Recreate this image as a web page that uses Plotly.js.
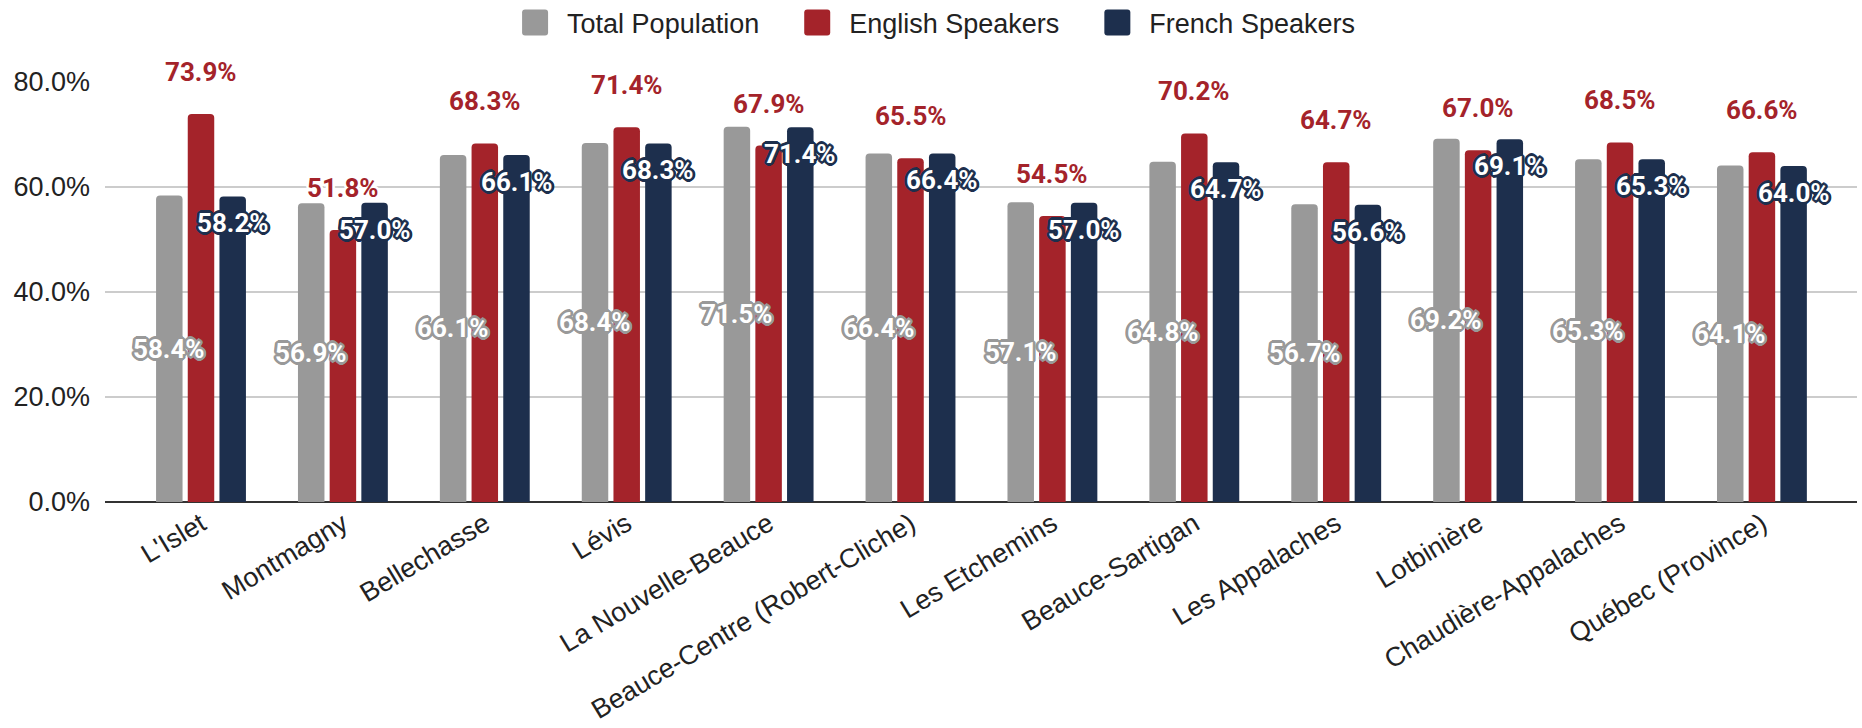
<!DOCTYPE html>
<html><head><meta charset="utf-8">
<script src="https://cdn.plot.ly/plotly-3.0.1.min.js"></script>
<style>html,body{margin:0;padding:0;background:#fff;} #chart{width:1862px;height:728px;}</style>
</head><body><div id="chart"></div>
<script>
const categories = ["L'Islet","Montmagny","Bellechasse","Lévis","La Nouvelle-Beauce","Beauce-Centre (Robert-Cliche)","Les Etchemins","Beauce-Sartigan","Les Appalaches","Lotbinière","Chaudière-Appalaches","Québec (Province)"];
const totalPopulation = [58.4,56.9,66.1,68.4,71.5,66.4,57.1,64.8,56.7,69.2,65.3,64.1];
const englishSpeakers = [73.9,51.8,68.3,71.4,67.9,65.5,54.5,70.2,64.7,67.0,68.5,66.6];
const frenchSpeakers = [58.2,57.0,66.1,68.3,71.4,66.4,57.0,64.7,56.6,69.1,65.3,64.0];
const seriesNames = ["Total Population","English Speakers","French Speakers"];
const yTickValues = [0,20,40,60,80];
const yTickLabels = ["0.0%","20.0%","40.0%","60.0%","80.0%"];

const GREY = '#999999', RED = '#A4232A', NAVY = '#1D2F4D';
const AXIS_FONT = 'Liberation Sans, Arial, sans-serif';
const LABEL_FONT = 'Roboto, sans-serif';

function halo(color, r) {
  const parts = [];
  for (let a = 0; a < 360; a += 30) {
    const rad = a * Math.PI / 180;
    parts.push((r * Math.cos(rad)).toFixed(2) + 'px ' + (r * Math.sin(rad)).toFixed(2) + 'px 0 ' + color);
  }
  return parts.join(', ');
}
const fmt = v => v.toFixed(1) + '%';

const seriesValues = [totalPopulation, englishSpeakers, frenchSpeakers];
const seriesColors = [GREY, RED, NAVY];

const data = seriesValues.map((vals, k) => ({
  type: 'bar',
  name: seriesNames[k],
  x: categories,
  y: vals,
  marker: { color: seriesColors[k], line: { width: 0 } },
  hoverinfo: 'skip'
}));

const PITCH = 31.7;
const annotations = [];
categories.forEach((c, i) => {
  annotations.push({
    x: c, y: totalPopulation[i] / 2, xref: 'x', yref: 'y', xshift: -PITCH,
    text: fmt(totalPopulation[i]), showarrow: false, xanchor: 'center', yanchor: 'middle',
    font: { family: LABEL_FONT, size: 26, weight: 700, color: '#ffffff', shadow: halo(GREY, 2.8) }
  });
  annotations.push({
    x: c, y: englishSpeakers[i], xref: 'x', yref: 'y', xshift: 0, yshift: 42,
    text: fmt(englishSpeakers[i]), showarrow: false, xanchor: 'center', yanchor: 'middle',
    font: { family: LABEL_FONT, size: 26, weight: 700, color: RED, shadow: halo('#ffffff', 2.6) }
  });
  annotations.push({
    x: c, y: frenchSpeakers[i], xref: 'x', yref: 'y', xshift: PITCH, yshift: -27,
    text: fmt(frenchSpeakers[i]), showarrow: false, xanchor: 'center', yanchor: 'middle',
    font: { family: LABEL_FONT, size: 26, weight: 700, color: '#ffffff', shadow: halo(NAVY, 2.8) }
  });
});

const ITEM_WIDTH = 75;
const layout = {
  width: 1862, height: 728, autosize: false,
  paper_bgcolor: '#ffffff', plot_bgcolor: '#ffffff',
  margin: { l: 105, r: 5, t: 82, b: 226, pad: 0, autoexpand: false },
  barmode: 'group', bargap: 0.33, bargroupgap: 0.164, barcornerradius: 4,
  showlegend: true,
  legend: {
    orientation: 'h', xref: 'paper', x: 0.4658, xanchor: 'center',
    yref: 'paper', y: 1.1405, yanchor: 'middle',
    font: { family: AXIS_FONT, size: 27, color: '#222222' },
    itemwidth: ITEM_WIDTH, traceorder: 'normal', bgcolor: 'rgba(0,0,0,0)'
  },
  xaxis: {
    type: 'category', range: [-0.6765, 11.67], tickangle: -31,
    tickfont: { family: AXIS_FONT, size: 27, color: '#222222' },
    showgrid: false, ticks: '', showline: false, zeroline: false, automargin: false, fixedrange: true
  },
  yaxis: {
    range: [0, 80], tickmode: 'array', tickvals: yTickValues, ticktext: yTickLabels,
    tickfont: { family: AXIS_FONT, size: 27, color: '#222222' },
    showgrid: true, gridcolor: '#cccccc', gridwidth: 2,
    zeroline: true, zerolinecolor: '#333333', zerolinewidth: 2,
    ticks: '', ticklabelstandoff: 14, showline: false, automargin: false, fixedrange: true
  },
  annotations: annotations
};

Plotly.newPlot('chart', data, layout, { displayModeBar: false, staticPlot: true }).then(gd => {
  const r = 13, c = 3;
  const d = `M${-r + c},${-r}H${r - c}A${c},${c} 0 0 1 ${r},${-r + c}V${r - c}A${c},${c} 0 0 1 ${r - c},${r}H${-r + c}A${c},${c} 0 0 1 ${-r},${r - c}V${-r + c}A${c},${c} 0 0 1 ${-r + c},${-r}Z`;
  const textGap = ITEM_WIDTH + 10;
  gd.querySelectorAll('.legend .legendpoints path').forEach(p => {
    p.setAttribute('d', d);
    p.setAttribute('transform', 'translate(' + (textGap - 32) + ',0)');
    p.style.strokeWidth = '0px';
  });
});
</script>
</body></html>
